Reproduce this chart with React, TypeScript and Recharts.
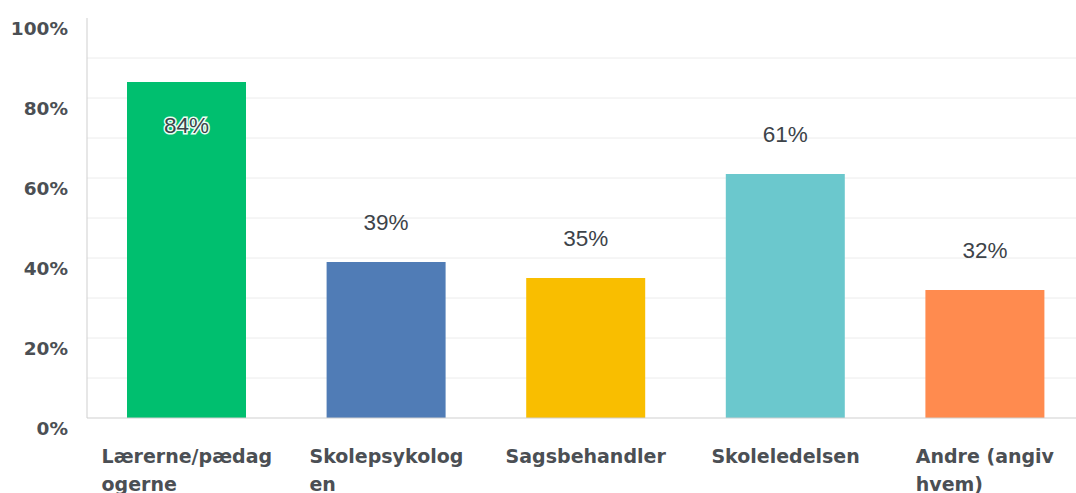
import React, { useLayoutEffect, useRef, useState } from "react";
import { BarChart, Bar, XAxis, YAxis, CartesianGrid, Cell } from "recharts";

const categories = ["Lærerne/pædagogerne", "Skolepsykologen", "Sagsbehandler", "Skoleledelsen", "Andre (angiv hvem)"];
const tickLines = [
  ["Lærerne/pædag", "ogerne"],
  ["Skolepsykolog", "en"],
  ["Sagsbehandler"],
  ["Skoleledelsen"],
  ["Andre (angiv", "hvem)"],
];
const values = [84, 39, 35, 61, 32];
const colors = ["#00BF6F", "#507CB6", "#F9BE00", "#6BC8CD", "#FF8B4F"];
const yTicks = [0, 20, 40, 60, 80, 100];
const gridValues = [10, 20, 30, 40, 50, 60, 70, 80, 90];

const data = categories.map((c, i) => ({ name: c, value: values[i] }));

const FONT = "'DejaVu Sans', sans-serif";

const XTick = (props: any) => {
  const { x, y, payload } = props;
  const ref = useRef<SVGTextElement>(null);
  const [w, setW] = useState(0);
  const lines: string[] = tickLines[payload.index] || [String(payload.value)];
  useLayoutEffect(() => {
    if (ref.current) setW(ref.current.getBBox().width);
  }, [payload.index]);
  return (
    <g transform={`translate(${x - w / 2},${y})`}>
      <text ref={ref} x={0} y={0} fill="#4b4f54" fontFamily={FONT} fontWeight={700} fontSize={19}>
        {lines.map((l, i) => (
          <tspan key={i} x={0} dy={i === 0 ? 37 : 28}>
            {l}
          </tspan>
        ))}
      </text>
    </g>
  );
};

const YTick = (props: any) => {
  const { y, payload } = props;
  return (
    <text x={68} y={y + 11} dy="0.35em" textAnchor="end" fill="#4b4f54" fontFamily={FONT} fontWeight={700} fontSize={18.5}>
      {payload.value}%
    </text>
  );
};

const ValueLabel = (props: any) => {
  const { x, y, width, value } = props;
  const inside = value > 75;
  const cy = inside ? y + 43 : y - 40;
  return (
    <text
      x={x + width / 2}
      y={cy}
      dy="0.35em"
      textAnchor="middle"
      fill="#3d4349"
      stroke={inside ? "#e8fff4" : "none"}
      strokeWidth={inside ? 3 : 0}
      paintOrder="stroke"
      fontFamily="'Liberation Sans', Arial, sans-serif"
      fontSize={22.5}
    >
      {value}%
    </text>
  );
};

export default function App() {
  return (
    <div style={{ position: "absolute", left: 0, top: 0, width: 1076, height: 493, overflow: "hidden", background: "#fff" }}>
      <BarChart width={1085} height={493} data={data} margin={{ top: 18, right: 0, bottom: 0, left: 0 }} barSize={119}>
        <CartesianGrid horizontal vertical={false} horizontalValues={gridValues} stroke="#ececec" />
        <XAxis
          dataKey="name"
          axisLine={{ stroke: "#cfcfcf" }}
          tickLine={false}
          height={75}
          interval={0}
          tick={<XTick />}
        />
        <YAxis
          domain={[0, 100]}
          ticks={yTicks}
          width={87}
          axisLine={{ stroke: "#cfcfcf" }}
          tickLine={false}
          tick={<YTick />}
        />
        <Bar dataKey="value" isAnimationActive={false} label={<ValueLabel />}>
          {data.map((d, i) => (
            <Cell key={i} fill={colors[i]} />
          ))}
        </Bar>
      </BarChart>
    </div>
  );
}
